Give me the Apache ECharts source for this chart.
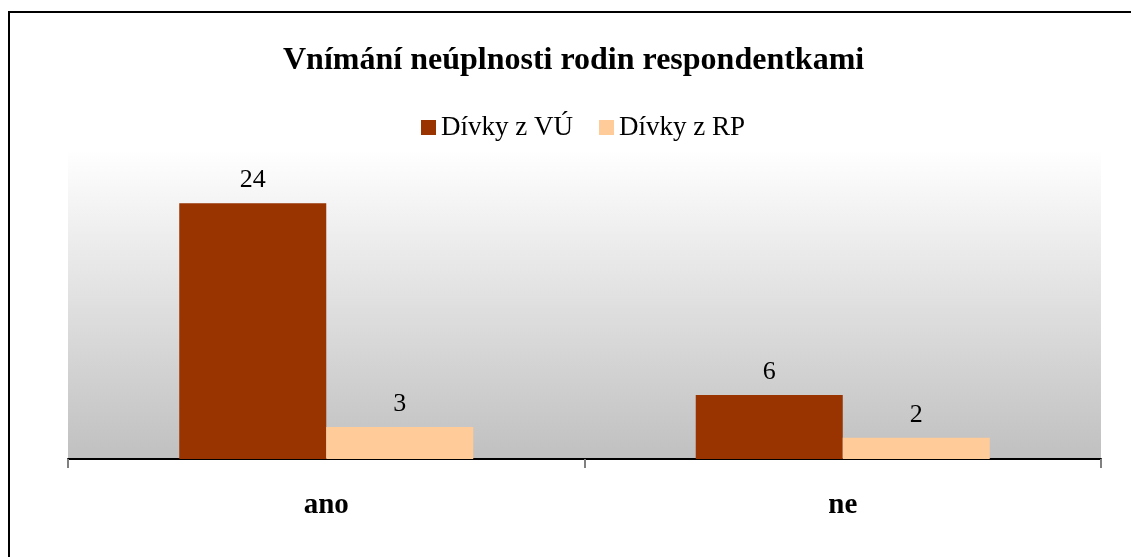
<!DOCTYPE html>
<html>
<head>
<meta charset="utf-8">
<script src="https://cdn.jsdelivr.net/npm/echarts@6/dist/echarts.min.js"></script>
<style>
    html, body { margin: 0; padding: 0; overflow: hidden; background: #fff; }
    #chart { width: 1131px; height: 557px; }
</style>
</head>
<body>
<div id="chart"></div>
<script type="text/javascript">
    var categories = ['ano', 'ne'];
    var seriesNames = ['Dívky z VÚ', 'Dívky z RP'];
    var valuesVU = [24, 6];
    var valuesRP = [3, 2];

    var serif = '"Liberation Serif", "Times New Roman", serif';

    var chart = echarts.init(document.getElementById('chart'));
    var option = {
        animation: false,
        // outer frame of the chart, only its left and top edges are in view
        graphic: [{
            type: 'polyline',
            shape: { points: [[9, 800], [9, 12], [1400, 12]] },
            style: { stroke: '#000', lineWidth: 2, fill: null },
            silent: true
        }],
        title: {
            text: 'Vnímání neúplnosti rodin respondentkami',
            left: 278,
            top: 40,
            textStyle: { fontFamily: serif, fontSize: 32, fontWeight: 'bold', color: '#000' }
        },
        legend: {
            data: seriesNames,
            top: 109,
            left: 416,
            itemWidth: 15,
            itemHeight: 15,
            itemGap: 26,
            icon: 'rect',
            textStyle: { fontFamily: serif, fontSize: 27, color: '#000', padding: [0, 0, 0, 0] }
        },
        grid: {
            left: 68,
            right: 30,
            top: 150,
            bottom: 98,
            show: true,
            borderWidth: 0,
            backgroundColor: new echarts.graphic.LinearGradient(0, 0, 0, 1, [
                { offset: 0, color: '#ffffff' },
                { offset: 1, color: '#c0c0c0' }
            ])
        },
        xAxis: {
            type: 'category',
            data: categories,
            axisLine: { lineStyle: { color: '#000', width: 2 } },
            axisTick: { show: true, length: 9, lineStyle: { color: '#808080', width: 2 } },
            axisLabel: {
                margin: 32,
                fontFamily: serif, fontSize: 29, fontWeight: 'bold', color: '#000'
            }
        },
        yAxis: {
            type: 'value',
            min: 0,
            max: 29,
            show: false,
            splitLine: { show: false }
        },
        series: [
            {
                name: seriesNames[0],
                type: 'bar',
                data: valuesVU,
                barWidth: 147,
                barGap: '0%',
                itemStyle: { color: '#993300' },
                label: { show: true, position: 'top', distance: 10, fontFamily: serif, fontSize: 26, color: '#000' }
            },
            {
                name: seriesNames[1],
                type: 'bar',
                data: valuesRP,
                barWidth: 147,
                itemStyle: { color: '#ffcc99' },
                label: { show: true, position: 'top', distance: 10, fontFamily: serif, fontSize: 26, color: '#000' }
            }
        ]
    };
    chart.setOption(option);
</script>
</body>
</html>
